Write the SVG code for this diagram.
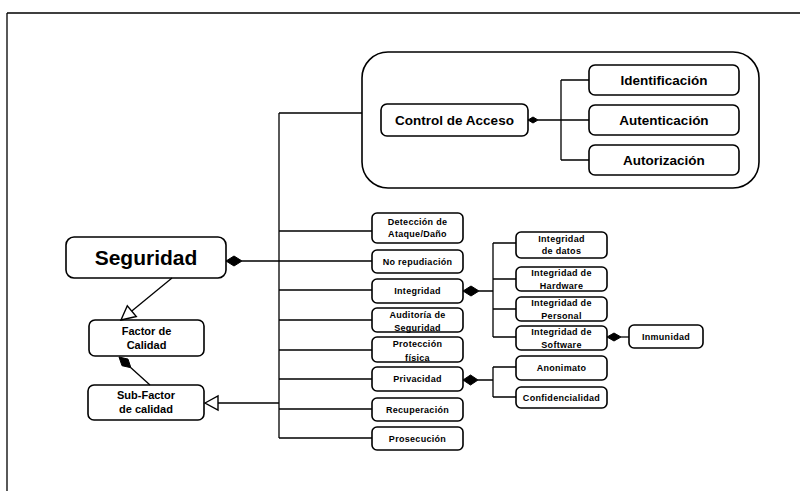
<svg xmlns="http://www.w3.org/2000/svg" width="807" height="491" viewBox="0 0 807 491">
<style>
.box{fill:#fff;stroke:#000;stroke-width:1.6}
.ln{fill:none;stroke:#000;stroke-width:1.3}
.dia{fill:#000;stroke:#000;stroke-width:1}
.tri{fill:#fff;stroke:#000;stroke-width:1.4}
text{font-family:"Liberation Sans",Arial,sans-serif;font-weight:bold;fill:#000;text-anchor:middle}
.s{font-size:9px;letter-spacing:0.3px}
.m{font-size:11px}
.l{font-size:13.5px}
.xl{font-size:21px}
</style>
<rect width="807" height="491" fill="#fff"/>
<g id="frame"><path class="ln" d="M7,13 H800 M7,13 V491" stroke-width="2"/></g>
<g id="container"><rect class="box" x="362" y="52" width="397" height="136" rx="26"/></g>
<g id="control-acceso"><rect class="box" x="381" y="104" width="147" height="32" rx="6"/><text class="l" x="454.5" y="125">Control de Acceso</text></g>
<g id="identificacion"><rect class="box" x="589" y="65" width="150" height="30" rx="6"/><text class="l" x="664" y="85">Identificación</text></g>
<g id="autenticacion"><rect class="box" x="589" y="105" width="150" height="30" rx="6"/><text class="l" x="664" y="125">Autenticación</text></g>
<g id="autorizacion"><rect class="box" x="589" y="145" width="150" height="30" rx="6"/><text class="l" x="664" y="165">Autorización</text></g>
<g id="seguridad"><rect class="box" x="66" y="237" width="160" height="41" rx="8"/><text class="xl" x="146" y="265">Seguridad</text></g>
<g id="factor"><rect class="box" x="89" y="320" width="115" height="36" rx="6"/><text class="m" x="146.5" y="335">Factor de</text><text class="m" x="146.5" y="349">Calidad</text></g>
<g id="subfactor"><rect class="box" x="88" y="385" width="116" height="35" rx="6"/><text class="m" x="146" y="399">Sub-Factor</text><text class="m" x="146" y="413">de calidad</text></g>
<g id="deteccion"><rect class="box" x="372" y="213" width="91" height="30" rx="5"/><text class="s" x="417.5" y="225">Detección de</text><text class="s" x="417.5" y="237">Ataque/Daño</text></g>
<g id="norepudiacion"><rect class="box" x="372" y="250" width="91" height="23" rx="5"/><text class="s" x="417.5" y="265">No repudiación</text></g>
<g id="integridad"><rect class="box" x="372" y="279" width="91" height="24" rx="5"/><text class="s" x="417.5" y="294">Integridad</text></g>
<g id="auditoria"><rect class="box" x="372" y="308" width="91" height="24" rx="5"/><text class="s" x="417.5" y="318">Auditoría de</text><text class="s" x="417.5" y="331">Seguridad</text></g>
<g id="proteccion"><rect class="box" x="372" y="337" width="91" height="25" rx="5"/><text class="s" x="417.5" y="347">Protección</text><text class="s" x="417.5" y="361">física</text></g>
<g id="privacidad"><rect class="box" x="372" y="367" width="91" height="24" rx="5"/><text class="s" x="417.5" y="382">Privacidad</text></g>
<g id="recuperacion"><rect class="box" x="372" y="398" width="91" height="23" rx="5"/><text class="s" x="417.5" y="413">Recuperación</text></g>
<g id="prosecucion"><rect class="box" x="372" y="427" width="91" height="23" rx="5"/><text class="s" x="417.5" y="442">Prosecución</text></g>
<g id="int-datos"><rect class="box" x="516" y="232" width="91" height="26" rx="5"/><text class="s" x="561.5" y="242">Integridad</text><text class="s" x="561.5" y="254">de datos</text></g>
<g id="int-hardware"><rect class="box" x="516" y="267" width="91" height="24" rx="5"/><text class="s" x="561.5" y="276">Integridad de</text><text class="s" x="561.5" y="289">Hardware</text></g>
<g id="int-personal"><rect class="box" x="516" y="297" width="91" height="24" rx="5"/><text class="s" x="561.5" y="306">Integridad de</text><text class="s" x="561.5" y="319">Personal</text></g>
<g id="int-software"><rect class="box" x="516" y="326" width="91" height="24" rx="5"/><text class="s" x="561.5" y="335">Integridad de</text><text class="s" x="561.5" y="348">Software</text></g>
<g id="inmunidad"><rect class="box" x="629" y="325" width="74" height="23" rx="5"/><text class="s" x="666" y="340">Inmunidad</text></g>
<g id="anonimato"><rect class="box" x="516" y="356" width="91" height="24" rx="5"/><text class="s" x="561.5" y="371">Anonimato</text></g>
<g id="confidencialidad"><rect class="box" x="516" y="387" width="91" height="21" rx="5"/><text class="s" x="561.5" y="401">Confidencialidad</text></g>
<g id="connectors">
<path class="ln" d="M538,120 H561 M561,80 V160 M561,80 H589 M561,120 H589 M561,160 H589"/>
<polygon class="dia" points="528,120 533,117 538,120 533,123"/>
<path class="ln" d="M242,261 H279 M279,113 V438 M279,113 H362 M279,231 H372 M279,261 H372 M279,290 H372 M279,320 H372 M279,350 H372 M279,379 H372 M279,409 H372 M279,438 H372"/>
<polygon class="dia" points="226,261 234,256 242,261 234,266"/>
<path class="ln" d="M479,291 H493 M493,243 V337 M493,243 H516 M493,279 H516 M493,309 H516 M493,337 H516"/>
<polygon class="dia" points="463,291 471,286 479,291 471,296"/>
<path class="ln" d="M621,337 H629"/>
<polygon class="dia" points="607,337 614,333 621,337 614,341"/>
<path class="ln" d="M478,380 H493 M493,367 V397 M493,367 H516 M493,397 H516"/>
<polygon class="dia" points="463,380 470.5,375 478,380 470.5,385"/>
<path class="ln" d="M172,278 L131.8,311.1"/>
<polygon class="tri" points="121,320 136.3,316.5 127.3,305.7"/>
<path class="ln" d="M130.9,367.7 L150,385"/>
<polygon class="dia" points="119,357 128,359.1 130.9,367.7 122,365.7"/>
<path class="ln" d="M218,403 H279"/>
<polygon class="tri" points="205,403 218,396 218,410"/>
</g>
</svg>
